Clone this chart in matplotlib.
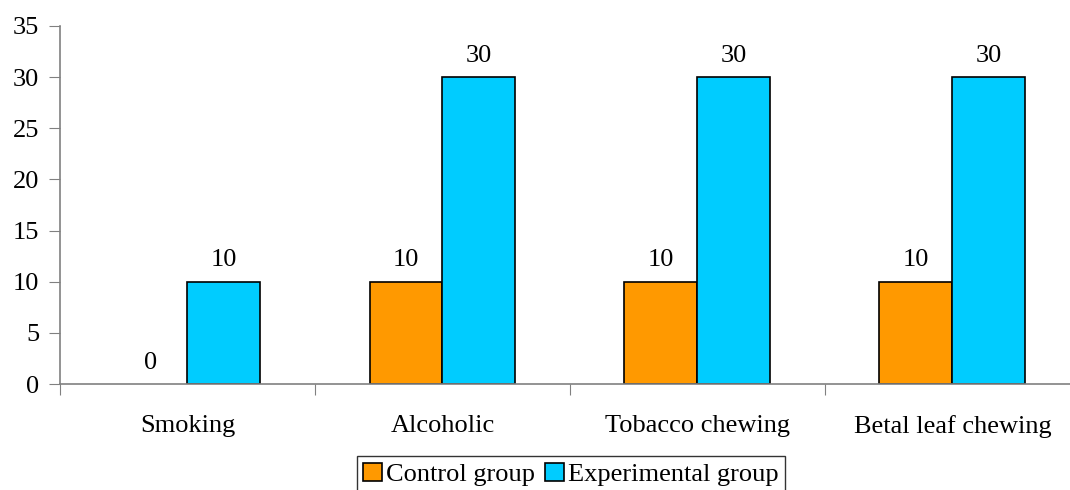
import numpy as np
import matplotlib.pyplot as plt

categories = ["Smoking", "Alcoholic", "Tobacco chewing", "Betal leaf chewing"]
control = [0, 10, 10, 10]
experimental = [10, 30, 30, 30]

plt.rcParams["font.family"] = ["Liberation Serif", "DejaVu Serif"]
FS = 19

fig = plt.figure(figsize=(10.7, 4.9), dpi=100)
# plot area runs past the right edge, as in the exported original
ax = fig.add_axes([60 / 1070, 106 / 490, 1020 / 1070, 358 / 490])

x = np.arange(len(categories))
w = 73 / 255


def edges(vals):
    # zero-height bars get no outline so the axis line stays grey
    return ["black" if v > 0 else "none" for v in vals]


b1 = ax.bar(x - w / 2, control, w, color="#FF9900", edgecolor=edges(control),
            linewidth=1.2, label="Control group")
b2 = ax.bar(x + w / 2, experimental, w, color="#00CCFF", edgecolor=edges(experimental),
            linewidth=1.2, label="Experimental group")

for bars, vals in ((b1, control), (b2, experimental)):
    for rect, v in zip(bars, vals):
        ax.text(rect.get_x() + rect.get_width() / 2, v + 1.0, f"{v}",
                ha="center", va="bottom", fontsize=FS)

ax.set_xlim(-0.5, len(categories) - 0.5)
ax.set_ylim(0, 35)
ax.set_yticks(range(0, 36, 5))
ax.tick_params(axis="y", labelsize=FS, length=8, color="#808080", direction="out", pad=7)

# category labels sit between boundary ticks
ax.set_xticks(np.arange(-0.5, len(categories), 1.0))
ax.set_xticklabels([])
ax.set_xticks(x, minor=True)
ax.set_xticklabels(categories, minor=True, fontsize=FS)
ax.tick_params(axis="x", which="major", length=8, color="#808080")
ax.tick_params(axis="x", which="minor", length=0, pad=22)

for s in ("top", "right"):
    ax.spines[s].set_visible(False)
for s in ("left", "bottom"):
    ax.spines[s].set_color("#808080")
    ax.spines[s].set_linewidth(1.2)

leg = fig.legend(loc="upper center", bbox_to_anchor=(571 / 1070, 1 - 456 / 490), ncol=2,
                 fontsize=FS, frameon=True, fancybox=False, edgecolor="black",
                 handlelength=0.7, handleheight=0.7, handletextpad=0.15,
                 columnspacing=0.4, borderpad=0.25, borderaxespad=0)
leg.get_frame().set_linewidth(1.0)
for h in leg.legend_handles:
    h.set_edgecolor("black")
    h.set_linewidth(1.2)

fig.savefig("out.png", dpi=100)
